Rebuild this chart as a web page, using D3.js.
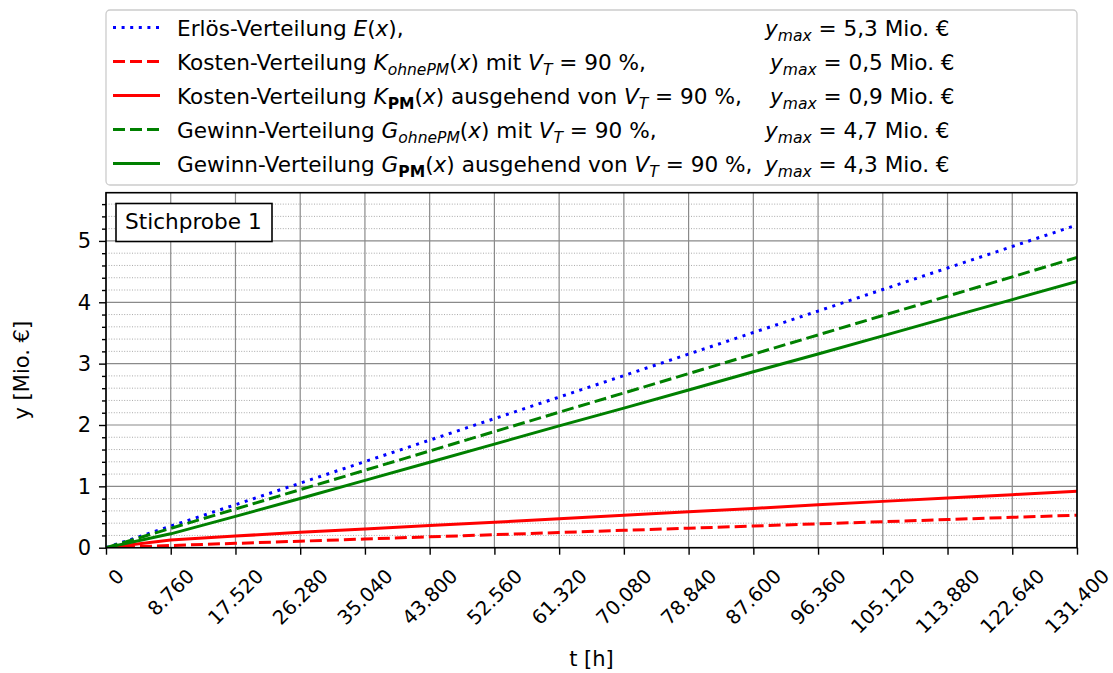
<!DOCTYPE html>
<html>
<head>
<meta charset="utf-8">
<script src="https://cdn.jsdelivr.net/npm/d3@7"></script>
<style>
  body { margin: 0; background: #fff; }
  svg { display: block; }
  text { font-family: "DejaVu Sans", sans-serif; fill: #000; white-space: pre; }
</style>
</head>
<body>
<svg id="chart" width="1113" height="673"></svg>
<script>
// Operating hours (one tick per year of 8760 h)
const hours = [0, 8760, 17520, 26280, 35040, 43800, 52560, 61320, 70080, 78840, 87600, 96360, 105120, 113880, 122640, 131400];
const hourLabels = ["0", "8.760", "17.520", "26.280", "35.040", "43.800", "52.560", "61.320", "70.080", "78.840", "87.600", "96.360", "105.120", "113.880", "122.640", "131.400"];

// Cumulative values in Mio. €
const erloes       = [0, 0.351, 0.701, 1.052, 1.403, 1.753, 2.104, 2.455, 2.805, 3.156, 3.507, 3.857, 4.208, 4.559, 4.909, 5.26];
const kostenOhnePM = [0, 0.035, 0.071, 0.106, 0.141, 0.177, 0.212, 0.247, 0.283, 0.318, 0.353, 0.389, 0.424, 0.459, 0.495, 0.53];
const kostenPM     = [0, 0.125, 0.19, 0.25, 0.305, 0.36, 0.415, 0.47, 0.53, 0.585, 0.64, 0.70, 0.755, 0.81, 0.865, 0.92];
const gewinnOhnePM = [0, 0.316, 0.630, 0.946, 1.262, 1.576, 1.892, 2.208, 2.522, 2.838, 3.154, 3.468, 3.784, 4.100, 4.414, 4.73];
const gewinnPM     = [0, 0.226, 0.511, 0.802, 1.098, 1.393, 1.689, 1.985, 2.275, 2.571, 2.867, 3.157, 3.453, 3.749, 4.044, 4.34];

const yTicks = [0, 1, 2, 3, 4, 5];
const yMinorTicks = [0.2, 0.4, 0.6, 0.8, 1.2, 1.4, 1.6, 1.8, 2.2, 2.4, 2.6, 2.8, 3.2, 3.4, 3.6, 3.8, 4.2, 4.4, 4.6, 4.8, 5.2, 5.4, 5.6];

const FONT = 21.6;      // legend, annotation
const TICK_FONT = 21;   // y tick labels, axis titles
const XTICK_FONT = 19.6; // rotated hour labels
const plot = { left: 106, right: 1077, top: 192.7, bottom: 547.7 };

const svg = d3.select("#chart");

const yMax = 1.1 * d3.max(erloes);
const x = d3.scaleLinear().domain([0, 131400]).range([plot.left, plot.right]);
const y = d3.scaleLinear().domain([0, yMax]).range([plot.bottom, plot.top]);

// ---- grid ----
const grid = svg.append("g");
grid.selectAll(".minor").data(yMinorTicks).join("line")
  .attr("x1", plot.left).attr("x2", plot.right)
  .attr("y1", d => y(d)).attr("y2", d => y(d))
  .attr("stroke", "#a0a0a0").attr("stroke-width", 0.9).attr("stroke-dasharray", "1,1.6");
grid.selectAll(".majorY").data(yTicks).join("line")
  .attr("x1", plot.left).attr("x2", plot.right)
  .attr("y1", d => y(d)).attr("y2", d => y(d))
  .attr("stroke", "#8a8a8a").attr("stroke-width", 1.2);
grid.selectAll(".majorX").data(hours).join("line")
  .attr("x1", d => x(d)).attr("x2", d => x(d))
  .attr("y1", plot.top).attr("y2", plot.bottom)
  .attr("stroke", "#8a8a8a").attr("stroke-width", 1.2);

// ---- series ----
const series = [
  { name: "erloes", values: erloes, color: "#0000ff", dash: "3,5.6", width: 3 },
  { name: "kostenOhnePM", values: kostenOhnePM, color: "#ff0000", dash: "12,5", width: 3 },
  { name: "kostenPM", values: kostenPM, color: "#ff0000", dash: null, width: 3 },
  { name: "gewinnOhnePM", values: gewinnOhnePM, color: "#008000", dash: "12,5", width: 3 },
  { name: "gewinnPM", values: gewinnPM, color: "#008000", dash: null, width: 3 }
];

svg.append("clipPath").attr("id", "plotClip").append("rect")
  .attr("x", plot.left).attr("y", plot.top)
  .attr("width", plot.right - plot.left).attr("height", plot.bottom - plot.top);

const line = d3.line().x(d => x(d[0])).y(d => y(d[1]));
const linesG = svg.append("g").attr("clip-path", "url(#plotClip)");
series.forEach(s => {
  linesG.append("path")
    .datum(hours.map((h, i) => [h, s.values[i]]))
    .attr("d", line)
    .attr("fill", "none")
    .attr("stroke", s.color)
    .attr("stroke-width", s.width)
    .attr("stroke-dasharray", s.dash);
});

// ---- axes ----
const xAxis = svg.append("g").attr("transform", `translate(0,${plot.bottom})`)
  .call(d3.axisBottom(x).tickValues(hours).tickSize(7).tickFormat(""));
const yAxis = svg.append("g").attr("transform", `translate(${plot.left},0)`)
  .call(d3.axisLeft(y).tickValues(yTicks).tickSize(7).tickPadding(8).tickFormat(d3.format("d")));
const yMinorAxis = svg.append("g").attr("transform", `translate(${plot.left},0)`)
  .call(d3.axisLeft(y).tickValues(yMinorTicks).tickSize(4).tickFormat(""));

[xAxis, yAxis, yMinorAxis].forEach(g => {
  g.select(".domain").remove();
  g.selectAll(".tick line").attr("stroke", "#000").attr("stroke-width", 1.4);
});
yAxis.selectAll(".tick text").attr("font-size", TICK_FONT).attr("font-family", "DejaVu Sans").attr("fill", "#000");

// rotated hour labels, bounding box centred under each tick
const xLabels = svg.append("g");
hours.forEach((h, i) => {
  const t = xLabels.append("text")
    .attr("font-size", XTICK_FONT)
    .attr("text-anchor", "middle")
    .attr("dy", "0.36em")
    .text(hourLabels[i]);
  const w = t.node().getComputedTextLength();
  const hgt = (w + XTICK_FONT * 0.78) * Math.SQRT1_2;
  const shift = i === 0 ? 10 : 0;
  t.attr("transform", `translate(${x(h) + shift},${567 + hgt / 2}) rotate(-45)`);
});

// frame
svg.append("rect")
  .attr("x", plot.left).attr("y", plot.top)
  .attr("width", plot.right - plot.left).attr("height", plot.bottom - plot.top)
  .attr("fill", "none").attr("stroke", "#000").attr("stroke-width", 1.6);

// axis titles
svg.append("text")
  .attr("transform", `translate(29,${(plot.top + plot.bottom) / 2}) rotate(-90)`)
  .attr("text-anchor", "middle").attr("font-size", TICK_FONT)
  .text("y [Mio. €]");
svg.append("text")
  .attr("x", (plot.left + plot.right) / 2).attr("y", 666)
  .attr("text-anchor", "middle").attr("font-size", TICK_FONT)
  .text("t [h]");

// sample label box
svg.append("rect")
  .attr("x", 116).attr("y", 203.5).attr("width", 156).attr("height", 38)
  .attr("fill", "#fff").attr("stroke", "#000").attr("stroke-width", 1.6);
svg.append("text").attr("x", 125).attr("y", 229).attr("font-size", FONT).text("Stichprobe 1");

// ---- legend ----
const legend = svg.append("g");
legend.append("rect")
  .attr("x", 106).attr("y", 10).attr("width", 971).attr("height", 175)
  .attr("rx", 4).attr("ry", 4)
  .attr("fill", "#fff").attr("fill-opacity", 0.8)
  .attr("stroke", "#cccccc").attr("stroke-width", 1.3);

const fmtMio = v => d3.format(".1f")(v).replace(".", ",");

const N = s => ({ t: s });
const I = s => ({ t: s, i: true });
const SI = s => ({ t: s, i: true, sub: true });
const SB = s => ({ t: s, b: true, sub: true });

const leftParts = [
  [N("Erlös-Verteilung "), I("E"), N("("), I("x"), N("),")],
  [N("Kosten-Verteilung "), I("K"), SI("ohnePM"), N("("), I("x"), N(") mit "), I("V"), SI("T"), N(" = 90 %,")],
  [N("Kosten-Verteilung "), I("K"), SB("PM"), N("("), I("x"), N(") ausgehend von "), I("V"), SI("T"), N(" = 90 %,")],
  [N("Gewinn-Verteilung "), I("G"), SI("ohnePM"), N("("), I("x"), N(") mit "), I("V"), SI("T"), N(" = 90 %,")],
  [N("Gewinn-Verteilung "), I("G"), SB("PM"), N("("), I("x"), N(") ausgehend von "), I("V"), SI("T"), N(" = 90 %,")]
];
const rightX = [765, 770, 770, 765, 765];

function richText(g, x0, y0, parts) {
  const t = g.append("text").attr("x", x0).attr("y", y0).attr("font-size", FONT);
  let lowered = false;
  parts.forEach(p => {
    const ts = t.append("tspan").text(p.t);
    if (p.i) ts.attr("font-style", "italic");
    if (p.b) ts.attr("font-weight", "bold");
    if (p.sub && !lowered) { ts.attr("dy", 5.5); lowered = true; }
    else if (!p.sub && lowered) { ts.attr("dy", -5.5); lowered = false; }
    if (p.sub) ts.attr("font-size", FONT * 0.72);
  });
  return t;
}

series.forEach((s, i) => {
  const cy = 27.5 + 34 * i;
  legend.append("line")
    .attr("x1", 113).attr("x2", 160).attr("y1", cy).attr("y2", cy)
    .attr("stroke", s.color).attr("stroke-width", s.width)
    .attr("stroke-dasharray", s.dash);
  richText(legend, 177, cy + 8, leftParts[i]);
  richText(legend, rightX[i], cy + 8,
    [I("y"), SI("max"), N(` = ${fmtMio(d3.max(s.values))} Mio. €`)]);
});
</script>
</body>
</html>
